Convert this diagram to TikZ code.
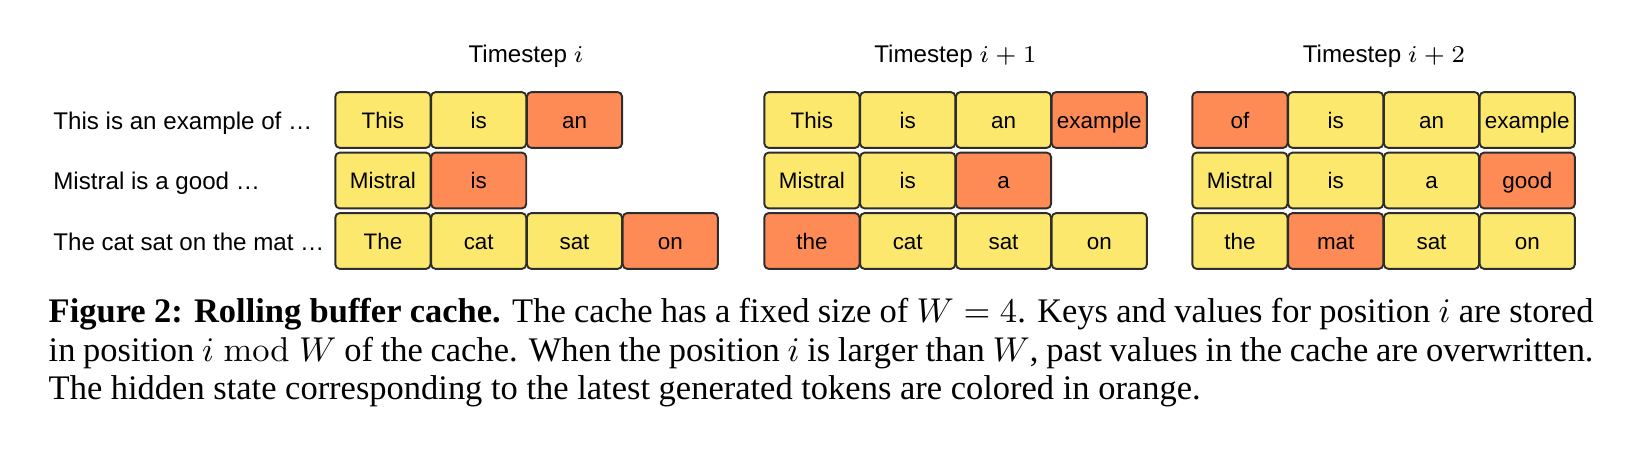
\documentclass[tikz,border=0pt]{standalone}
\usepackage[no-math]{fontspec}
\setmainfont{Liberation Serif}
\setsansfont{Liberation Sans}
\definecolor{cellY}{RGB}{252,232,108}
\definecolor{cellO}{RGB}{254,138,86}
\definecolor{cellB}{RGB}{45,45,45}
\tikzset{
  cell/.style={draw=cellB, line width=0.55pt, rounded corners=1.3pt,
    minimum width=27.6pt, minimum height=16.2pt, inner sep=0pt,
    font=\sffamily\fontsize{6.5}{7.5}\selectfont, text height=4.68pt, text depth=0pt},
  yc/.style={cell, fill=cellY},
  oc/.style={cell, fill=cellO},
  rowlab/.style={font=\sffamily\fontsize{7}{8.4}\selectfont, anchor=base west, inner sep=0pt},
  steplab/.style={font=\sffamily\fontsize{7}{8.4}\selectfont, anchor=base, inner sep=0pt},
  captext/.style={font=\fontsize{10}{11.1}\selectfont, anchor=base west, inner sep=0pt,
    text width=448pt, align=justify}
}
\begin{document}
\begin{tikzpicture}[x=0.29pt, y=-0.29pt]
\useasboundingbox (0,0) rectangle (1652,457);
% timestep labels
\node[steplab] (t1) at (526,63) {Timestep $i$};
\node[steplab] (t2) at (955.5,63) {Timestep $i+1$};
\node[steplab] (t3) at (1384,63) {Timestep $i+2$};
% row labels
\node[rowlab] (l1) at (52.7,129.5) {This is an example of \dots};
\node[rowlab] (l2) at (52.7,190) {Mistral is a good \dots};
\node[rowlab] (l3) at (52.7,250.5) {The cat sat on the mat \dots};
% group 1
\node[yc] (a11) at (382.9,120) {This};
\node[yc] (a12) at (478.7,120) {is};
\node[oc] (a13) at (574.5,120) {an};
\node[yc] (a21) at (382.9,180.5) {Mistral};
\node[oc] (a22) at (478.7,180.5) {is};
\node[yc] (a31) at (382.9,241) {The};
\node[yc] (a32) at (478.7,241) {cat};
\node[yc] (a33) at (574.5,241) {sat};
\node[oc] (a34) at (670.3,241) {on};
% group 2
\node[yc] (b11) at (811.9,120) {This};
\node[yc] (b12) at (907.7,120) {is};
\node[yc] (b13) at (1003.5,120) {an};
\node[oc] (b14) at (1099.3,120) {example};
\node[yc] (b21) at (811.9,180.5) {Mistral};
\node[yc] (b22) at (907.7,180.5) {is};
\node[oc] (b23) at (1003.5,180.5) {a};
\node[oc] (b31) at (811.9,241) {the};
\node[yc] (b32) at (907.7,241) {cat};
\node[yc] (b33) at (1003.5,241) {sat};
\node[yc] (b34) at (1099.3,241) {on};
% group 3
\node[oc] (c11) at (1239.9,120) {of};
\node[yc] (c12) at (1335.7,120) {is};
\node[yc] (c13) at (1431.5,120) {an};
\node[yc] (c14) at (1527.3,120) {example};
\node[yc] (c21) at (1239.9,180.5) {Mistral};
\node[yc] (c22) at (1335.7,180.5) {is};
\node[yc] (c23) at (1431.5,180.5) {a};
\node[oc] (c24) at (1527.3,180.5) {good};
\node[yc] (c31) at (1239.9,241) {the};
\node[oc] (c32) at (1335.7,241) {mat};
\node[yc] (c33) at (1431.5,241) {sat};
\node[yc] (c34) at (1527.3,241) {on};
% caption
\node[captext] (cap) at (48,323) {\textbf{Figure 2: Rolling buffer cache.} The cache has a fixed size of $W=4$. Keys and values for position $i$ are stored\linebreak in position $i \bmod W$ of the cache. When the position $i$ is larger than $W$, past values in the cache are overwritten.\linebreak The hidden state corresponding to the latest generated tokens are colored in orange.};
\end{tikzpicture}
\end{document}
